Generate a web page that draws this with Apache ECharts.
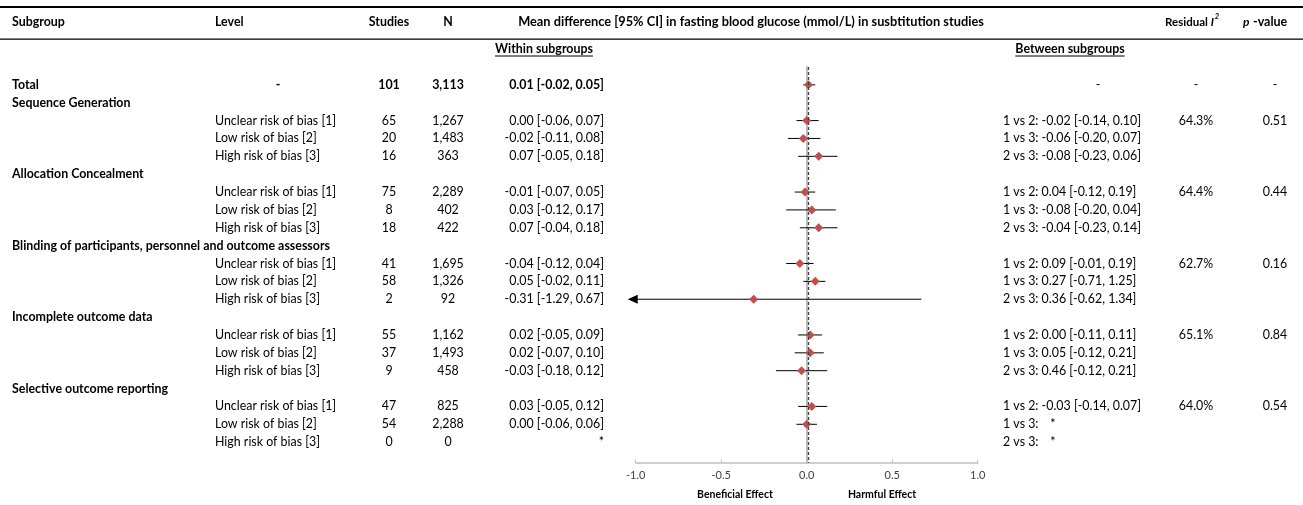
<!DOCTYPE html>
<html>
<head>
<meta charset="utf-8">
<script src="https://cdn.jsdelivr.net/npm/echarts@6/dist/echarts.min.js"></script>
<style>
  html, body { margin: 0; padding: 0; background: #ffffff; }
  #chart { width: 1303px; height: 505px; }
</style>
</head>
<body>
<div id="chart"></div>
<script>
// ---- Data ----------------------------------------------------------------
const subgroups = [
  'Sequence Generation',
  'Allocation Concealment',
  'Blinding of participants, personnel and outcome assessors',
  'Incomplete outcome data',
  'Selective outcome reporting'
];
const levels = ['Unclear risk of bias [1]', 'Low risk of bias [2]', 'High risk of bias [3]'];

const totalStudies = 101;
const totalN = 3113;
const totalMd = 0.01;
const totalLo = -0.02;
const totalHi = 0.05;

const studies = [
  [65, 20, 16],
  [75, 8, 18],
  [41, 58, 2],
  [55, 37, 9],
  [47, 54, 0]
];
const participants = [
  [1267, 1483, 363],
  [2289, 402, 422],
  [1695, 1326, 92],
  [1162, 1493, 458],
  [825, 2288, 0]
];
const md = [
  [0.00, -0.02, 0.07],
  [-0.01, 0.03, 0.07],
  [-0.04, 0.05, -0.31],
  [0.02, 0.02, -0.03],
  [0.03, 0.00, null]
];
const ciLow = [
  [-0.06, -0.11, -0.05],
  [-0.07, -0.12, -0.04],
  [-0.12, -0.02, -1.29],
  [-0.05, -0.07, -0.18],
  [-0.05, -0.06, null]
];
const ciHigh = [
  [0.07, 0.08, 0.18],
  [0.05, 0.17, 0.18],
  [0.04, 0.11, 0.67],
  [0.09, 0.10, 0.12],
  [0.12, 0.06, null]
];
const between = [
  ['1 vs 2: -0.02 [-0.14, 0.10]', '1 vs 3: -0.06 [-0.20, 0.07]', '2 vs 3: -0.08 [-0.23, 0.06]'],
  ['1 vs 2: 0.04 [-0.12, 0.19]', '1 vs 3: -0.08 [-0.20, 0.04]', '2 vs 3: -0.04 [-0.23, 0.14]'],
  ['1 vs 2: 0.09 [-0.01, 0.19]', '1 vs 3: 0.27 [-0.71, 1.25]', '2 vs 3: 0.36 [-0.62, 1.34]'],
  ['1 vs 2: 0.00 [-0.11, 0.11]', '1 vs 3: 0.05 [-0.12, 0.21]', '2 vs 3: 0.46 [-0.12, 0.21]'],
  ['1 vs 2: -0.03 [-0.14, 0.07]', '1 vs 3:|*', '2 vs 3:|*']
];
const residualI2 = ['64.3%', '64.4%', '62.7%', '65.1%', '64.0%'];
const pValues = ['0.51', '0.44', '0.16', '0.84', '0.54'];
const xTicks = [-1.0, -0.5, 0.0, 0.5, 1.0];

// ---- Table rows ------------------------------------------------------------
const fmt2 = v => v.toFixed(2);
const ciText = (m, l, h) => m === null ? '*' : fmt2(m) + ' [' + fmt2(l) + ', ' + fmt2(h) + ']';
const fmtN = v => v.toLocaleString('en-US');

const rows = [];
rows.push({
  kind: 'total', subgroup: 'Total', level: '-', studies: String(totalStudies), n: fmtN(totalN),
  within: ciText(totalMd, totalLo, totalHi), md: totalMd, lo: totalLo, hi: totalHi,
  between: '-', resid: '-', p: '-'
});
subgroups.forEach((name, g) => {
  rows.push({ kind: 'head', subgroup: name });
  levels.forEach((lv, k) => {
    rows.push({
      kind: 'level', level: lv, studies: String(studies[g][k]), n: fmtN(participants[g][k]),
      within: ciText(md[g][k], ciLow[g][k], ciHigh[g][k]),
      md: md[g][k], lo: ciLow[g][k], hi: ciHigh[g][k],
      between: between[g][k],
      resid: k === 0 ? residualI2[g] : '', p: k === 0 ? pValues[g] : ''
    });
  });
});

const pointData = [];
const barData = [];
rows.forEach((r, i) => {
  if (r.md !== null && r.md !== undefined) {
    pointData.push([r.md, i]);
    barData.push([r.lo, r.hi, i]);
  }
});

// ---- Layout ----------------------------------------------------------------
const FONT = 'Lato, "Liberation Sans", sans-serif';
const BODY = 12.4;
const HEAD = 12.4;
const col = {
  subgroup: 12, level: 215, levelDash: 278, studies: 389, n: 448, within: 604,
  between: 1003, betweenDash: 1098, resid: 1196, p: 1275
};
const X_MIN = -1, X_MAX = 1;

function measure(text, weight, size, style) {
  const c = document.createElement('canvas').getContext('2d');
  c.font = (style || 'normal') + ' ' + weight + ' ' + size + 'px ' + FONT;
  return c.measureText(text).width;
}

function txt(x, y, text, opt) {
  opt = opt || {};
  return {
    type: 'text', x: x, y: y, silent: true,
    style: {
      text: text, fill: opt.fill || '#000000',
      fontFamily: FONT, fontSize: opt.size || BODY,
      fontWeight: opt.bold ? 'bold' : 'normal',
      fontStyle: opt.italic ? 'italic' : 'normal',
      align: opt.align || 'left', verticalAlign: 'middle'
    }
  };
}

const chart = echarts.init(document.getElementById('chart'), null, { renderer: 'canvas' });

const withinW = measure('Within subgroups', 'bold', HEAD);
const betweenW = measure('Between subgroups', 'bold', HEAD);
const withinCx = 544, betweenCx = 1070;
const residX = 1165;
const supX = residX + measure('Residual ', 'bold', 11.5) + measure('I', 'bold', 11.5, 'italic') + 1;

const option = {
  animation: false,
  backgroundColor: '#ffffff',
  grid: { left: 635.7, right: 1303 - 977.7, top: 67, bottom: 505 - 462.7, containLabel: false },
  xAxis: {
    type: 'value', min: X_MIN, max: X_MAX, interval: 0.5,
    axisLine: { show: true, onZero: false, lineStyle: { color: '#BFBFBF', width: 1.5 } },
    axisTick: { show: true, inside: true, length: 3, lineStyle: { color: '#BFBFBF', width: 1 } },
    axisLabel: {
      color: '#404040', fontFamily: FONT, fontSize: 11, margin: 7,
      formatter: v => (xTicks.indexOf(v) >= 0 ? v.toFixed(1) : '')
    },
    splitLine: { show: false }
  },
  yAxis: {
    type: 'value', inverse: true, min: -1, max: 21.15,
    axisLine: { show: true, onZero: true, lineStyle: { color: '#BFBFBF', width: 2 } },
    axisTick: { show: false }, axisLabel: { show: false }, splitLine: { show: false }
  },
  graphic: [
    { type: 'rect', silent: true, shape: { x: 0, y: 6, width: 1303, height: 2 }, style: { fill: '#000' } },
    { type: 'rect', silent: true, shape: { x: 0, y: 38.5, width: 1303, height: 1.3 }, style: { fill: '#000' } },
    txt(col.subgroup, 22, 'Subgroup', { bold: true, size: HEAD }),
    txt(col.level, 22, 'Level', { bold: true, size: HEAD }),
    txt(col.studies, 22, 'Studies', { bold: true, size: HEAD, align: 'center' }),
    txt(col.n, 22, 'N', { bold: true, size: HEAD, align: 'center' }),
    txt(751, 22, 'Mean difference [95% CI] in fasting blood glucose (mmol/L) in susbtitution studies', { bold: true, size: 12.8, align: 'center' }),
    {
      type: 'text', x: residX, y: 22, silent: true,
      style: {
        text: '{a|Residual }{b|I}', verticalAlign: 'middle', align: 'left',
        rich: {
          a: { fontFamily: FONT, fontSize: 11.5, fontWeight: 'bold', fill: '#000' },
          b: { fontFamily: FONT, fontSize: 11.5, fontWeight: 'bold', fontStyle: 'italic', fill: '#000' }
        }
      }
    },
    txt(supX, 17, '2', { bold: true, italic: true, size: 7.5 }),
    txt(1243, 22, 'p', { bold: true, italic: true, size: 12 }),
    txt(1253, 22, '-value', { bold: true, size: 12.5 }),
    txt(withinCx, 49, 'Within subgroups', { bold: true, size: HEAD, align: 'center' }),
    { type: 'rect', silent: true, shape: { x: withinCx - withinW / 2, y: 55.5, width: withinW, height: 1 }, style: { fill: '#000' } },
    txt(betweenCx, 49, 'Between subgroups', { bold: true, size: HEAD, align: 'center' }),
    { type: 'rect', silent: true, shape: { x: betweenCx - betweenW / 2, y: 55.5, width: betweenW, height: 1 }, style: { fill: '#000' } },
    txt(735, 495, 'Beneficial Effect', { bold: true, size: 10.5, align: 'center' }),
    txt(882, 495, 'Harmful Effect', { bold: true, size: 10.5, align: 'center' })
  ],
  series: [
    {
      // table text, one row per y position
      type: 'custom', name: 'table', clip: false, silent: true, z: 1,
      encode: { x: 0, y: 1 },
      data: rows.map((r, i) => [0, i]),
      renderItem: function (params, api) {
        const i = api.value(1);
        const r = rows[i];
        const y = api.coord([0, i])[1];
        const kids = [];
        if (r.kind === 'head') {
          kids.push(txt(col.subgroup, y, r.subgroup, { bold: true, size: HEAD }));
        } else if (r.kind === 'total') {
          kids.push(txt(col.subgroup, y, r.subgroup, { bold: true, size: HEAD }));
          kids.push(txt(col.levelDash, y, r.level, { bold: true, align: 'center' }));
          kids.push(txt(col.studies, y, r.studies, { bold: true, align: 'center' }));
          kids.push(txt(col.n, y, r.n, { bold: true, align: 'center' }));
          kids.push(txt(col.within, y, r.within, { bold: true, align: 'right' }));
          kids.push(txt(col.betweenDash, y, r.between, { align: 'center' }));
          kids.push(txt(col.resid, y, r.resid, { align: 'center' }));
          kids.push(txt(col.p, y, r.p, { align: 'center' }));
        } else {
          kids.push(txt(col.level, y, r.level));
          kids.push(txt(col.studies, y, r.studies, { align: 'center' }));
          kids.push(txt(col.n, y, r.n, { align: 'center' }));
          kids.push(txt(col.within, y, r.within, { align: 'right' }));
          if (r.between.indexOf('|') >= 0) {
            const parts = r.between.split('|');
            kids.push(txt(col.between, y, parts[0]));
            kids.push(txt(col.between + 50, y, parts[1], { align: 'center' }));
          } else {
            kids.push(txt(col.between, y, r.between));
          }
          if (r.resid) kids.push(txt(col.resid, y, r.resid, { align: 'center' }));
          if (r.p) kids.push(txt(col.p, y, r.p, { align: 'center' }));
        }
        return { type: 'group', children: kids };
      }
    },
    {
      // confidence intervals; an arrow marks an interval running past the axis
      type: 'custom', name: 'ci', clip: false, silent: true, z: 3,
      encode: { x: [0, 1], y: 2 },
      data: barData,
      renderItem: function (params, api) {
        const lo = api.value(0), hi = api.value(1), r = api.value(2);
        const clipped = lo < X_MIN;
        const p1 = api.coord([clipped ? X_MIN : lo, r]);
        const p2 = api.coord([hi, r]);
        const kids = [{
          type: 'line', shape: { x1: p1[0], y1: p1[1], x2: p2[0], y2: p2[1] },
          style: { stroke: '#000000', lineWidth: 1 }
        }];
        if (clipped) {
          kids.push({
            type: 'polygon',
            shape: { points: [[p1[0] - 8, p1[1]], [p1[0] + 2, p1[1] - 4.5], [p1[0] + 2, p1[1] + 4.5]] },
            style: { fill: '#000000' }
          });
        }
        return { type: 'group', children: kids };
      }
    },
    {
      type: 'scatter', name: 'estimate', symbol: 'diamond', symbolSize: 9, z: 4, silent: true,
      itemStyle: { color: '#C0504D', opacity: 1 },
      data: pointData,
      markLine: {
        silent: true, symbol: 'none', animation: false, label: { show: false },
        lineStyle: { type: [3, 2], color: '#404040', width: 1.3 },
        data: [{ xAxis: totalMd }]
      }
    }
  ]
};

chart.setOption(option);
</script>
</body>
</html>
